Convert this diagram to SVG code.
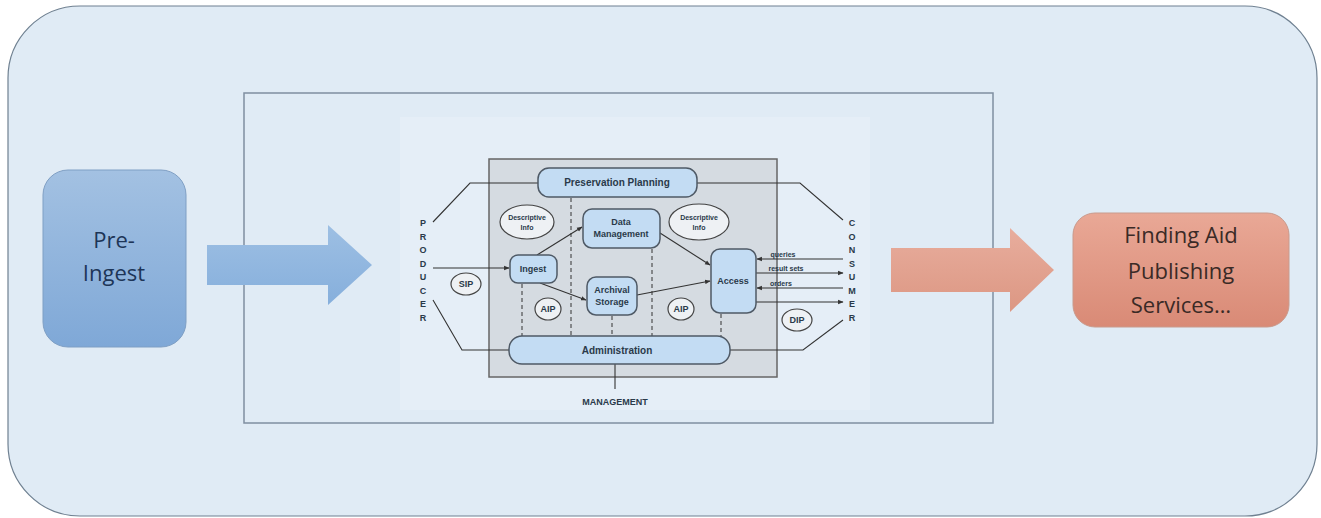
<svg xmlns="http://www.w3.org/2000/svg" width="1321" height="518" viewBox="0 0 1321 518">
<defs>
<linearGradient id="gBlue" x1="0" y1="0" x2="0" y2="1"><stop offset="0" stop-color="#a3c1e2"/><stop offset="1" stop-color="#7fa8d7"/></linearGradient>
<linearGradient id="gRed" x1="0" y1="0" x2="0" y2="1"><stop offset="0" stop-color="#e9a896"/><stop offset="1" stop-color="#d98a76"/></linearGradient>
<linearGradient id="gArrB" x1="0" y1="0" x2="0" y2="1"><stop offset="0" stop-color="#9dbfe3"/><stop offset="1" stop-color="#86afdc"/></linearGradient>
<linearGradient id="gArrR" x1="0" y1="0" x2="0" y2="1"><stop offset="0" stop-color="#e8ad9d"/><stop offset="1" stop-color="#dc9783"/></linearGradient>
<marker id="ah" viewBox="0 0 10 10" refX="9" refY="5" markerWidth="5" markerHeight="5" orient="auto"><path d="M0,1 L10,5 L0,9 z" fill="#333"/></marker>
<style>
.mod{fill:#c3dcf3;stroke:#4f5a66;stroke-width:1.5}
.ell{fill:#eef1f4;stroke:#444;stroke-width:1.2}
.t{font-family:"Liberation Sans",Arial,sans-serif;font-weight:bold;fill:#2a3a4a;text-anchor:middle}
.s{font-size:9px}
.xs{font-size:7px}
.ln{stroke:#333;stroke-width:1.1;fill:none}
.arr{stroke:#333;stroke-width:1.1;fill:none;marker-end:url(#ah)}
.dash{stroke:#333;stroke-width:1;stroke-dasharray:4 3;fill:none}
.big{font-family:"Open Sans","Liberation Sans",sans-serif;font-size:22px;text-anchor:middle}
</style>
</defs>
<rect x="0" y="0" width="1321" height="518" fill="#ffffff"/>
<rect x="8" y="6" width="1309" height="510" rx="72" fill="#e0ebf5" stroke="#6f8091" stroke-width="1.2"/>
<rect x="244" y="93" width="749" height="330" fill="#e0ebf5" stroke="#7f8fa0" stroke-width="1.5"/>
<rect x="400" y="117" width="470" height="293" fill="#e5eef7"/>

<g id="oais">
<rect x="489" y="159" width="288" height="218" fill="#d5dbe1" stroke="#666" stroke-width="1.5"/>
</g>

<g id="connectors">
<polyline class="ln" points="433,222 470,183 538,183"/>
<polyline class="ln" points="697,183 800,183 843,220"/>
<polyline class="ln" points="433,300 462,350 509,350"/>
<polyline class="ln" points="730,350 803,350 843,320"/>
<line class="arr" x1="433" y1="268" x2="509" y2="268"/>
<line class="arr" x1="537" y1="255" x2="582" y2="227"/>
<line class="arr" x1="540" y1="283" x2="586" y2="300"/>
<line class="arr" x1="660" y1="233" x2="710" y2="265"/>
<line class="arr" x1="637" y1="295" x2="710" y2="281"/>
<line class="arr" x1="843" y1="259" x2="757" y2="259"/>
<line class="arr" x1="756" y1="273" x2="843" y2="273"/>
<line class="arr" x1="843" y1="288" x2="757" y2="288"/>
<line class="arr" x1="756" y1="302" x2="843" y2="302"/>
<line class="ln" x1="615" y1="364" x2="615" y2="389"/>
<line class="dash" x1="571" y1="198" x2="571" y2="336"/>
<line class="dash" x1="652" y1="249" x2="652" y2="336"/>
<line class="dash" x1="522" y1="284" x2="522" y2="336"/>
<line class="dash" x1="612" y1="316" x2="612" y2="336"/>
<line class="dash" x1="721" y1="314" x2="721" y2="336"/>
</g>

<g id="pre-ingest">
<rect x="43" y="170" width="143" height="177" rx="25" fill="url(#gBlue)" stroke="#7f9fc4" stroke-width="1"/>
<text class="big" x="114" y="248" fill="#1d3557">Pre-</text>
<text class="big" x="114" y="281" fill="#1d3557">Ingest</text>
</g>

<g id="arrow-in">
<path d="M207,245 L328,245 L328,225 L372,265 L328,305 L328,285 L207,285 z" fill="url(#gArrB)"/>
</g>

<g id="arrow-out">
<path d="M891,248 L1010,248 L1010,228 L1054,270 L1010,312 L1010,292 L891,292 z" fill="url(#gArrR)"/>
</g>

<g id="finding-aid">
<rect x="1073" y="213" width="216" height="114" rx="22" fill="url(#gRed)" stroke="#c99a8c" stroke-width="1"/>
<text class="big" x="1181" y="243" fill="#3a2a26">Finding Aid</text>
<text class="big" x="1181" y="279" fill="#3a2a26">Publishing</text>
<text class="big" x="1181" y="313" fill="#3a2a26">Services…</text>
</g>

<g id="preservation-planning">
<rect class="mod" x="538" y="168" width="159" height="29" rx="11"/>
<text class="t" x="617" y="186" font-size="10">Preservation Planning</text>
</g>
<g id="desc-info-1">
<ellipse class="ell" cx="527" cy="222" rx="27" ry="17"/>
<text class="t xs" x="527" y="220">Descriptive</text>
<text class="t xs" x="527" y="230">Info</text>
</g>
<g id="data-management">
<rect class="mod" x="583" y="209" width="77" height="39" rx="9"/>
<text class="t s" x="621" y="225">Data</text>
<text class="t s" x="621" y="237">Management</text>
</g>
<g id="desc-info-2">
<ellipse class="ell" cx="699" cy="222" rx="30" ry="18"/>
<text class="t xs" x="699" y="220">Descriptive</text>
<text class="t xs" x="699" y="230">Info</text>
</g>
<g id="ingest">
<rect class="mod" x="510" y="255" width="47" height="28" rx="8"/>
<text class="t s" x="533" y="272">Ingest</text>
</g>
<g id="archival-storage">
<rect class="mod" x="587" y="277" width="50" height="38" rx="9"/>
<text class="t s" x="612" y="293">Archival</text>
<text class="t s" x="612" y="305">Storage</text>
</g>
<g id="access">
<rect class="mod" x="711" y="249" width="45" height="64" rx="9"/>
<text class="t s" x="733" y="284">Access</text>
</g>
<g id="administration">
<rect class="mod" x="509" y="336" width="221" height="28" rx="13"/>
<text class="t" x="617" y="354" font-size="10">Administration</text>
</g>
<g id="sip">
<ellipse class="ell" cx="466" cy="284" rx="15" ry="11"/>
<text class="t s" x="466" y="287">SIP</text>
</g>
<g id="aip-1">
<ellipse class="ell" cx="548" cy="309" rx="13" ry="11"/>
<text class="t s" x="548" y="312">AIP</text>
</g>
<g id="aip-2">
<ellipse class="ell" cx="681" cy="309" rx="13" ry="11"/>
<text class="t s" x="681" y="312">AIP</text>
</g>
<g id="dip">
<ellipse class="ell" cx="797" cy="320" rx="15" ry="11"/>
<text class="t s" x="797" y="323">DIP</text>
</g>
<g id="labels">
<text class="t xs" x="783" y="257">queries</text>
<text class="t xs" x="786" y="271">result sets</text>
<text class="t xs" x="781" y="286">orders</text>
<text class="t s" x="615" y="405">MANAGEMENT</text>
</g>
<g id="producer">
<text class="t s" x="423" y="226">P</text>
<text class="t s" x="423" y="240">R</text>
<text class="t s" x="423" y="253">O</text>
<text class="t s" x="423" y="267">D</text>
<text class="t s" x="423" y="280">U</text>
<text class="t s" x="423" y="294">C</text>
<text class="t s" x="423" y="307">E</text>
<text class="t s" x="423" y="321">R</text>
</g>
<g id="consumer">
<text class="t s" x="852" y="226">C</text>
<text class="t s" x="852" y="240">O</text>
<text class="t s" x="852" y="253">N</text>
<text class="t s" x="852" y="267">S</text>
<text class="t s" x="852" y="280">U</text>
<text class="t s" x="852" y="294">M</text>
<text class="t s" x="852" y="307">E</text>
<text class="t s" x="852" y="321">R</text>
</g>
</svg>
